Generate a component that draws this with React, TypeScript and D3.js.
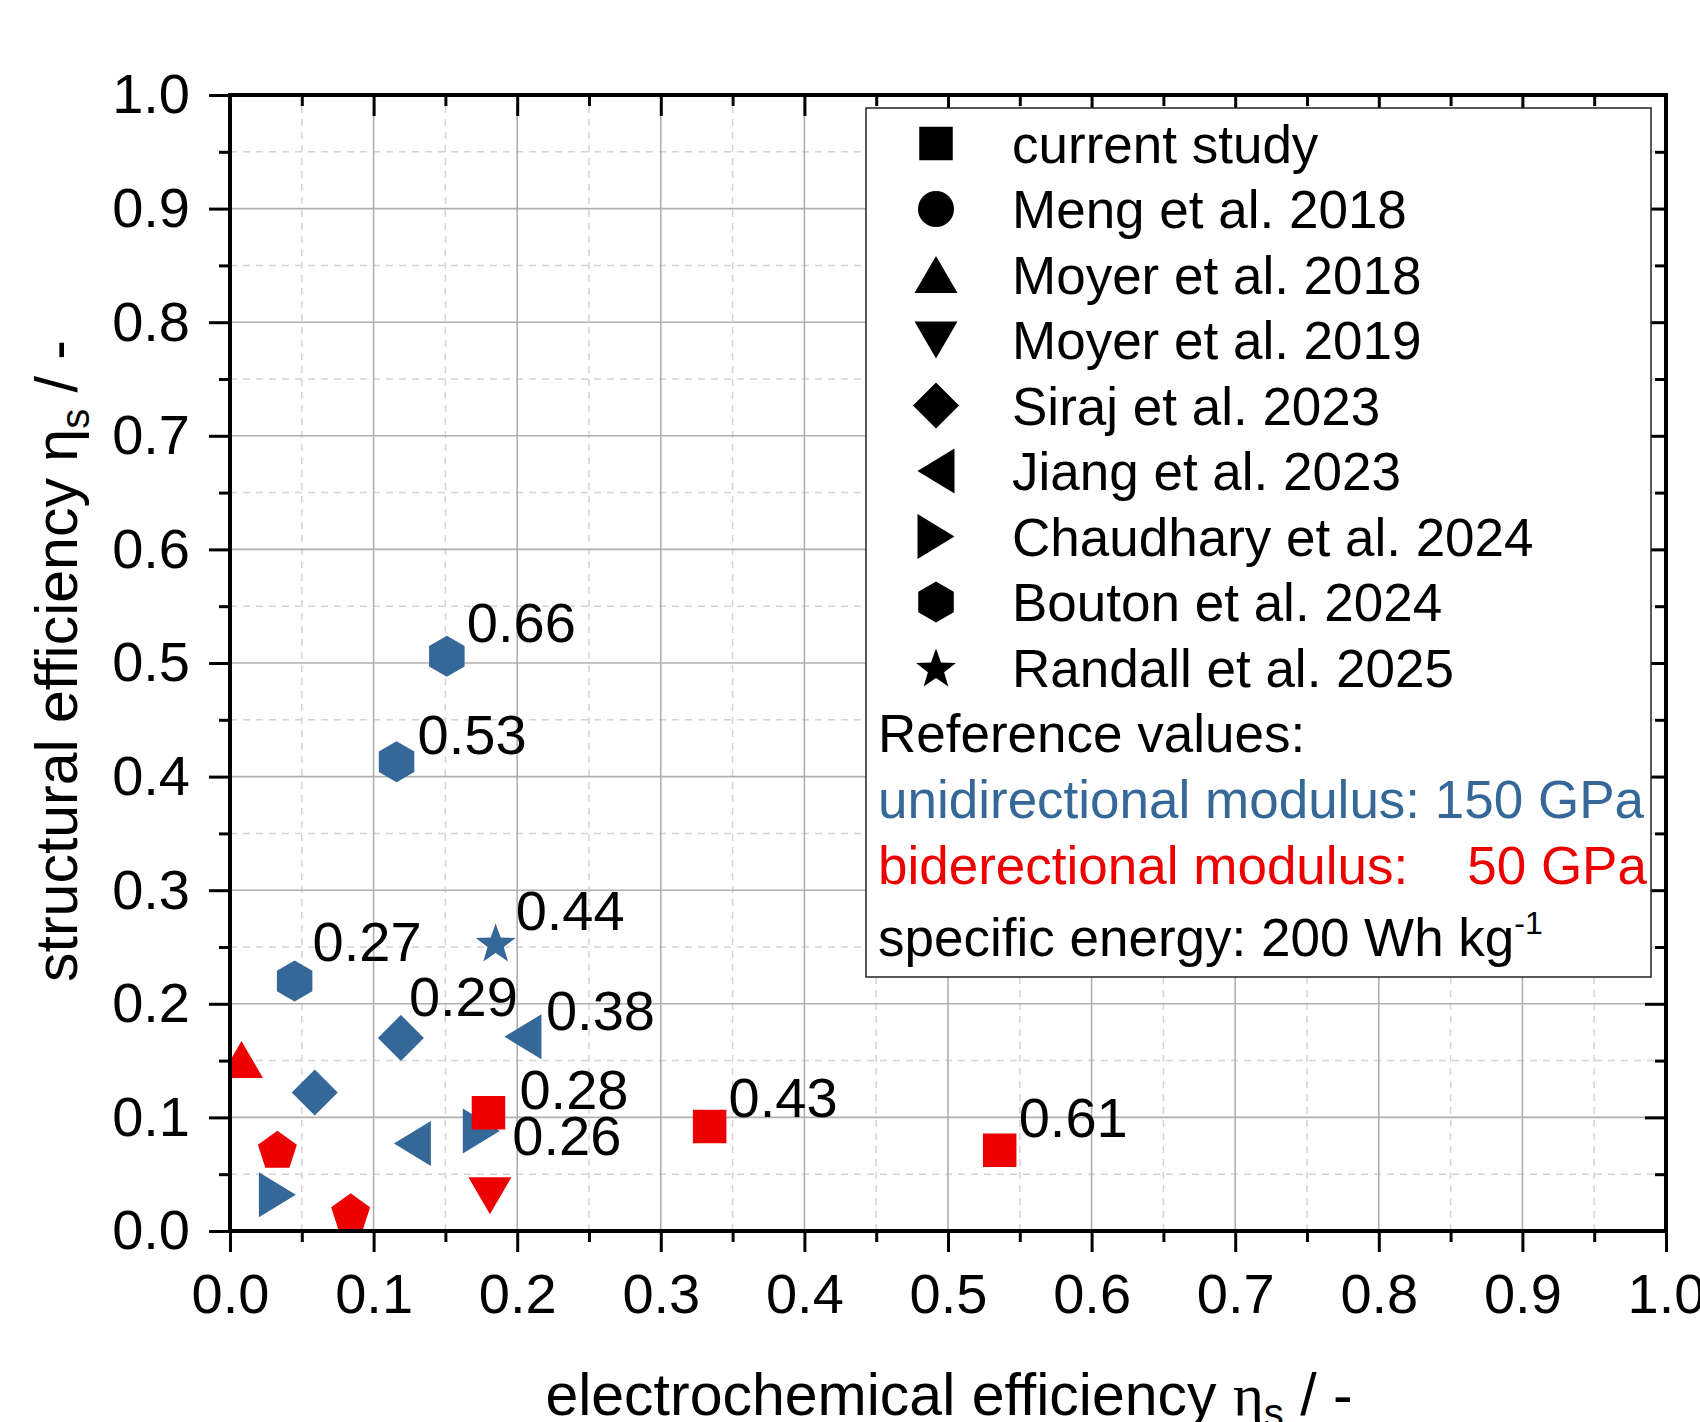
import { useEffect, useRef } from 'react';
import * as d3 from "d3";

// legend: studies and their marker shapes
const studies = [
    "current study", "Meng et al. 2018", "Moyer et al. 2018", "Moyer et al. 2019",
    "Siraj et al. 2023", "Jiang et al. 2023", "Chaudhary et al. 2024", "Bouton et al. 2024",
    "Randall et al. 2025",
];
const studyShapes = [
    "square", "circle", "triangleUp", "triangleDown", "diamond",
    "triangleLeft", "triangleRight", "hexagon", "star",
];

// unidirectional reference (150 GPa), blue
const uniX = [0.151, 0.116, 0.185, 0.045, 0.119, 0.204, 0.059, 0.127, 0.175, 0.033];
const uniY = [0.506, 0.413, 0.254, 0.220, 0.170, 0.171, 0.122, 0.077, 0.088, 0.032];
const uniShape = ["hexagon", "hexagon", "star", "hexagon", "diamond", "triangleLeft", "diamond", "triangleLeft", "triangleRight", "triangleRight"];
const uniLabels = ["0.66", "0.53", "0.44", "0.27", "0.29", "0.38", "", "", "0.26", ""];

// biderectional reference (50 GPa), red
const biX = [0.008, 0.033, 0.084, 0.181, 0.180, 0.334, 0.536];
const biY = [0.151, 0.072, 0.017, 0.031, 0.104, 0.092, 0.071];
const biShape = ["triangleUp", "pentagon", "pentagon", "triangleDown", "square", "square", "square"];
const biLabels = ["", "", "", "", "0.28", "0.43", "0.61"];

// axis tick labels (same on both axes)
const tickLabels = ["0.0", "0.1", "0.2", "0.3", "0.4", "0.5", "0.6", "0.7", "0.8", "0.9", "1.0"];

// label offsets from the marker centre (px), layout only
const uniLabelOffset: ([number, number] | null)[] = [[20, -14], [21, -8], [20, -12], [18, -20], [8, -22], [23, -7], null, null, [31, 24], null];
const biLabelOffset: ([number, number] | null)[] = [null, null, null, null, [31, -4], [19, -9], [19, -13]];

const BLUE = "#356798";
const RED = "#ec0000";
const FONT = "'Liberation Sans', Arial, sans-serif";

const polygon = (pts: [number, number][]) => (d3.line()(pts) || "") + "Z";
const regular = (n: number, r: number, dy = 0) =>
    polygon(d3.range(n).map(i => {
        const a = (-90 + i * 360 / n) * Math.PI / 180;
        return [r * Math.cos(a), r * Math.sin(a) + dy] as [number, number];
    }));

function shapePath(name: string): string {
    switch (name) {
        case "square": return polygon([[-16.75, -16.75], [16.75, -16.75], [16.75, 16.75], [-16.75, 16.75]]);
        case "circle": return d3.symbol().type(d3.symbolCircle).size(Math.PI * 18 * 18)() || "";
        case "triangleUp": return polygon([[0, -18.5], [21.5, 18.5], [-21.5, 18.5]]);
        case "triangleDown": return polygon([[0, 18.5], [21.5, -18.5], [-21.5, -18.5]]);
        case "triangleLeft": return polygon([[-18.5, 0], [18.5, -22.5], [18.5, 22.5]]);
        case "triangleRight": return polygon([[18.5, 0], [-18.5, -22.5], [-18.5, 22.5]]);
        case "diamond": return polygon([[0, -23], [23, 0], [0, 23], [-23, 0]]);
        case "hexagon": return regular(6, 20.5);
        case "pentagon": return regular(5, 20.5, 2);
        case "star": {
            const pts = d3.range(10).map(i => {
                const a = (-90 + i * 36) * Math.PI / 180;
                const r = i % 2 === 0 ? 21 : 8.5;
                return [r * Math.cos(a), r * Math.sin(a) + 2] as [number, number];
            });
            return polygon(pts);
        }
    }
    return "";
}

const App: React.FC = () => {
    const ref = useRef<SVGSVGElement | null>(null);

    useEffect(() => {
        if (!ref.current) return;

        const width = 1700;
        const height = 1422;
        const margin = { top: 95, right: 34, bottom: 191, left: 230 };
        const innerWidth = width - margin.left - margin.right;
        const innerHeight = height - margin.top - margin.bottom;

        const svg = d3.select(ref.current)
            .attr("width", width)
            .attr("height", height);
        svg.selectAll("*").remove();

        svg.append("rect").attr("width", width).attr("height", height).attr("fill", "white");

        const x = d3.scaleLinear().domain([0, 1]).range([margin.left, margin.left + innerWidth]);
        const y = d3.scaleLinear().domain([0, 1]).range([margin.top + innerHeight, margin.top]);

        const majors = tickLabels.map(Number);
        const minors = majors.slice(0, -1).map(v => +(v + 0.05).toFixed(2));

        // grid
        const grid = svg.append("g");
        grid.selectAll(".gx-minor").data(minors).enter().append("line")
            .attr("x1", d => x(d)).attr("x2", d => x(d))
            .attr("y1", y(0)).attr("y2", y(1))
            .attr("stroke", "#d4d4d4").attr("stroke-width", 1.5).attr("stroke-dasharray", "7,6");
        grid.selectAll(".gy-minor").data(minors).enter().append("line")
            .attr("y1", d => y(d)).attr("y2", d => y(d))
            .attr("x1", x(0)).attr("x2", x(1))
            .attr("stroke", "#d4d4d4").attr("stroke-width", 1.5).attr("stroke-dasharray", "7,6");
        grid.selectAll(".gx").data(majors).enter().append("line")
            .attr("x1", d => x(d)).attr("x2", d => x(d))
            .attr("y1", y(0)).attr("y2", y(1))
            .attr("stroke", "#b0b0b0").attr("stroke-width", 1.6);
        grid.selectAll(".gy").data(majors).enter().append("line")
            .attr("y1", d => y(d)).attr("y2", d => y(d))
            .attr("x1", x(0)).attr("x2", x(1))
            .attr("stroke", "#b0b0b0").attr("stroke-width", 1.6);

        // markers (clipped to plot)
        svg.append("clipPath").attr("id", "plot-clip")
            .append("rect").attr("x", margin.left).attr("y", margin.top)
            .attr("width", innerWidth).attr("height", innerHeight);
        const marks = svg.append("g").attr("clip-path", "url(#plot-clip)");

        const uni = uniX.map((v, i) => ({ x: v, y: uniY[i], shape: uniShape[i], label: uniLabels[i], off: uniLabelOffset[i] }));
        const bi = biX.map((v, i) => ({ x: v, y: biY[i], shape: biShape[i], label: biLabels[i], off: biLabelOffset[i] }));

        marks.selectAll(".uni").data(uni).enter().append("path")
            .attr("d", d => shapePath(d.shape))
            .attr("transform", d => `translate(${x(d.x)},${y(d.y)})`)
            .attr("fill", BLUE);
        marks.selectAll(".bi").data(bi).enter().append("path")
            .attr("d", d => shapePath(d.shape))
            .attr("transform", d => `translate(${x(d.x)},${y(d.y)})`)
            .attr("fill", RED);

        // value labels
        svg.append("g").selectAll("text")
            .data([...uni, ...bi].filter(d => d.label && d.off))
            .enter().append("text")
            .attr("x", d => x(d.x) + d.off![0])
            .attr("y", d => y(d.y) + d.off![1])
            .attr("font-family", FONT).attr("font-size", 56).attr("fill", "black")
            .text(d => d.label);

        // axes
        const axisStyle = (g: d3.Selection<SVGGElement, unknown, null, undefined>) => {
            g.select(".domain").remove();
            g.selectAll(".tick line").attr("stroke", "black").attr("stroke-width", 3);
            g.selectAll(".tick text").attr("font-family", FONT).attr("font-size", 56).attr("fill", "black");
        };

        svg.append("g").attr("transform", `translate(0,${y(0)})`)
            .call(d3.axisBottom(x).tickValues(majors).tickSize(21).tickPadding(21)
                .tickFormat((_, i) => tickLabels[i]))
            .call(axisStyle);
        svg.append("g").attr("transform", `translate(0,${y(0)})`)
            .call(d3.axisBottom(x).tickValues(minors).tickSize(11).tickFormat(() => ""))
            .call(axisStyle);
        svg.append("g").attr("transform", `translate(${x(0)},0)`)
            .call(d3.axisLeft(y).tickValues(majors).tickSize(21).tickPadding(19)
                .tickFormat((_, i) => tickLabels[i]))
            .call(axisStyle);
        svg.append("g").attr("transform", `translate(${x(0)},0)`)
            .call(d3.axisLeft(y).tickValues(minors).tickSize(11).tickFormat(() => ""))
            .call(axisStyle);
        // top and right: inward ticks, no labels
        svg.append("g").attr("transform", `translate(0,${y(1)})`)
            .call(d3.axisBottom(x).tickValues(majors).tickSize(21).tickFormat(() => ""))
            .call(axisStyle);
        svg.append("g").attr("transform", `translate(0,${y(1)})`)
            .call(d3.axisBottom(x).tickValues(minors).tickSize(11).tickFormat(() => ""))
            .call(axisStyle);
        svg.append("g").attr("transform", `translate(${x(1)},0)`)
            .call(d3.axisLeft(y).tickValues(majors).tickSize(21).tickFormat(() => ""))
            .call(axisStyle);
        svg.append("g").attr("transform", `translate(${x(1)},0)`)
            .call(d3.axisLeft(y).tickValues(minors).tickSize(11).tickFormat(() => ""))
            .call(axisStyle);

        // frame
        svg.append("rect")
            .attr("x", x(0)).attr("y", y(1))
            .attr("width", innerWidth).attr("height", innerHeight)
            .attr("fill", "none").attr("stroke", "black").attr("stroke-width", 4);

        // axis titles
        const yl = svg.append("text")
            .attr("transform", `translate(77,661) rotate(-90)`)
            .attr("text-anchor", "middle")
            .attr("font-family", FONT).attr("font-size", 59).attr("fill", "black");
        yl.append("tspan").text("structural efficiency η");
        yl.append("tspan").attr("font-size", 40).attr("dy", 12).text("s");
        yl.append("tspan").attr("dy", -12).text(" / -");

        const xl = svg.append("text")
            .attr("x", (x(0) + x(1)) / 2 + 1).attr("y", 1415)
            .attr("text-anchor", "middle")
            .attr("font-family", FONT).attr("font-size", 59).attr("fill", "black");
        xl.append("tspan").text("electrochemical efficiency ");
        xl.append("tspan").attr("font-family", "'Liberation Serif', 'Times New Roman', serif").text("η");
        xl.append("tspan").attr("font-size", 40).attr("dy", 12).text("s");
        xl.append("tspan").attr("dy", -12).text(" / -");

        // legend
        const lg = svg.append("g");
        lg.append("rect")
            .attr("x", 866).attr("y", 108).attr("width", 785).attr("height", 869)
            .attr("fill", "white").attr("stroke", "#222").attr("stroke-width", 1.5);

        const rowBase = (i: number) => 162.5 + 65.5 * i;
        lg.selectAll(".sym").data(studies).enter().append("path")
            .attr("d", (_, i) => shapePath(studyShapes[i]))
            .attr("transform", (_, i) => `translate(936,${rowBase(i) - 19})`)
            .attr("fill", "black");
        lg.selectAll(".lab").data(studies).enter().append("text")
            .attr("x", 1012).attr("y", (_, i) => rowBase(i))
            .attr("font-family", FONT).attr("font-size", 53).attr("fill", "black")
            .text(d => d);

        const note = (txt: string, yy: number, color: string) =>
            lg.append("text").attr("x", 878).attr("y", yy)
                .attr("font-family", FONT).attr("font-size", 53).attr("fill", color)
                .style("white-space", "pre")
                .text(txt);
        note("Reference values:", 752, "black");
        note("unidirectional modulus: 150 GPa", 818, BLUE);
        note("biderectional modulus:    50 GPa", 884, RED);
        const se = note("specific energy: 200 Wh kg", 956, "black");
        se.append("tspan").attr("font-size", 32).attr("dy", -22).text("-1");
    }, []);

    return (
        <svg ref={ref} style={{ position: "absolute", left: 0, top: 0, display: "block" }}></svg>
    );
};

export default App;
